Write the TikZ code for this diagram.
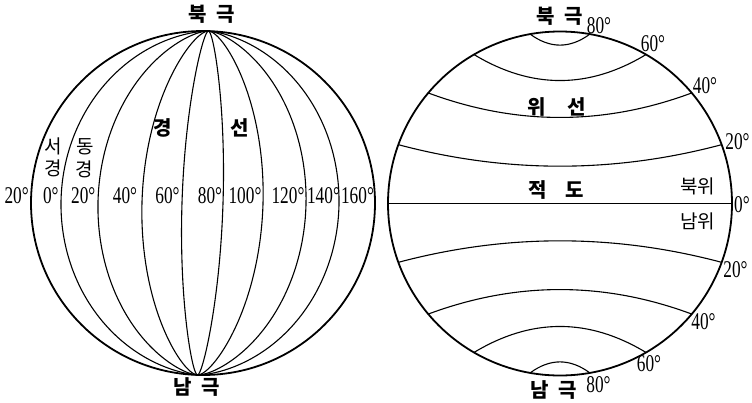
\documentclass[tikz,border=0pt]{standalone}
\usepackage{fontspec}
\newfontfamily\krfont{Noto Sans CJK KR}
\newfontfamily\numfont[FakeStretch=0.72]{Liberation Serif}
\begin{document}
\begin{tikzpicture}[x=1pt,y=-1pt,
  globe/.style={circle,draw,line width=1.8pt,minimum size=344pt,inner sep=0pt,outer sep=0pt},
  gridline/.style={line width=1.1pt},
  deg/.style={inner sep=0pt,font=\numfont\fontsize{24}{24}\selectfont},
  krbig/.style={inner sep=0pt,font=\krfont\bfseries\fontsize{20}{20}\selectfont},
  krsmall/.style={inner sep=0pt,font=\krfont\fontsize{19}{19}\selectfont},
]
\useasboundingbox (0,0) rectangle (752,402);

% ---------- left globe: meridians ----------
\node[globe] (LG) at (203,203) {};
\begin{scope}[shift={(203,203)},rotate=-1.83]
  \coordinate (NP) at (0,-172);
  \coordinate (SP) at (0,172);
  \foreach \d/\sg in {142/-1,105/-1,61/-1,21/-1,20/1,60/1,103/1,136/1}{
    \pgfmathsetmacro\D{\d/172}
    \pgfmathsetmacro\R{(\D*\D+1)/(2*\D)}
    \draw[gridline] plot[domain=-90:90,samples=61,smooth,variable=\t]
      ({\sg*172*(0.5*\D*cos(\t)+0.5*(\D-\R+sqrt(\R*\R-sin(\t)*sin(\t))))},{172*sin(\t)});
  }
\end{scope}

\node[krbig] (lnorth) at (211.5,14) {북\hspace{10pt}극};
\node[krbig] (lsouth) at (196.7,387) {남\hspace{10pt}극};
\node[krsmall] (seo) at (53.5,146) {서};
\node[krsmall] (seogy) at (53.5,168.5) {경};
\node[krsmall] (dong) at (85.5,147) {동};
\node[krsmall] (donggy) at (84,169) {경};
\node[krbig] (gyeong) at (162.5,127.5) {경};
\node[krbig] (seon) at (239.5,127.5) {선};

\node[deg] (w20) at (16.7,196) {20°};
\node[deg] (e0) at (50.8,196) {0°};
\node[deg] (e20) at (83.3,196) {20°};
\node[deg] (e40) at (125,196) {40°};
\node[deg] (e60) at (167.5,196) {60°};
\node[deg] (e80) at (210,196) {80°};
\node[deg] (e100) at (245,196) {100°};
\node[deg] (e120) at (288,196) {120°};
\node[deg] (e140) at (323.5,196) {140°};
\node[deg] (e160) at (357.5,196) {160°};

% ---------- right globe: parallels ----------
\node[globe] (RG) at (560,203.5) {};
\draw[gridline] (RG.west) -- (RG.east);
\foreach \p/\s in {20/21.5,40/24.5,60/26,80/11}{
  \draw[gridline] (RG.{180-\p}) .. controls ({560-172*cos(\p)/3},{203.5-172*sin(\p)+4*\s/3})
      and ({560+172*cos(\p)/3},{203.5-172*sin(\p)+4*\s/3}) .. (RG.\p);
  \draw[gridline] (RG.{180+\p}) .. controls ({560-172*cos(\p)/3},{203.5+172*sin(\p)-4*\s/3})
      and ({560+172*cos(\p)/3},{203.5+172*sin(\p)-4*\s/3}) .. (RG.{-\p});
}

\node[krbig] (rnorth) at (559.5,16) {북\hspace{10pt}극};
\node[krbig] (rsouth) at (553.5,390) {남\hspace{10pt}극};
\node[krbig] (wiseon) at (556.7,107) {위\hspace{21pt}선};
\node[krbig] (jeokdo) at (556,190) {적\hspace{18pt}도};
\node[krsmall] (bukwi) at (697.5,186) {북위};
\node[krsmall] (namwi) at (697.5,221.5) {남위};

\node[deg] (n80) at (599,26) {80°};
\node[deg] (n60) at (653,44) {60°};
\node[deg] (n40) at (705,86) {40°};
\node[deg] (n20) at (737.5,141.5) {20°};
\node[deg] (eq0) at (742,204.5) {0°};
\node[deg] (s20) at (735.5,270) {20°};
\node[deg] (s40) at (703.5,321.5) {40°};
\node[deg] (s60) at (649,364) {60°};
\node[deg] (s80) at (598.5,384.5) {80°};
\end{tikzpicture}
\end{document}
